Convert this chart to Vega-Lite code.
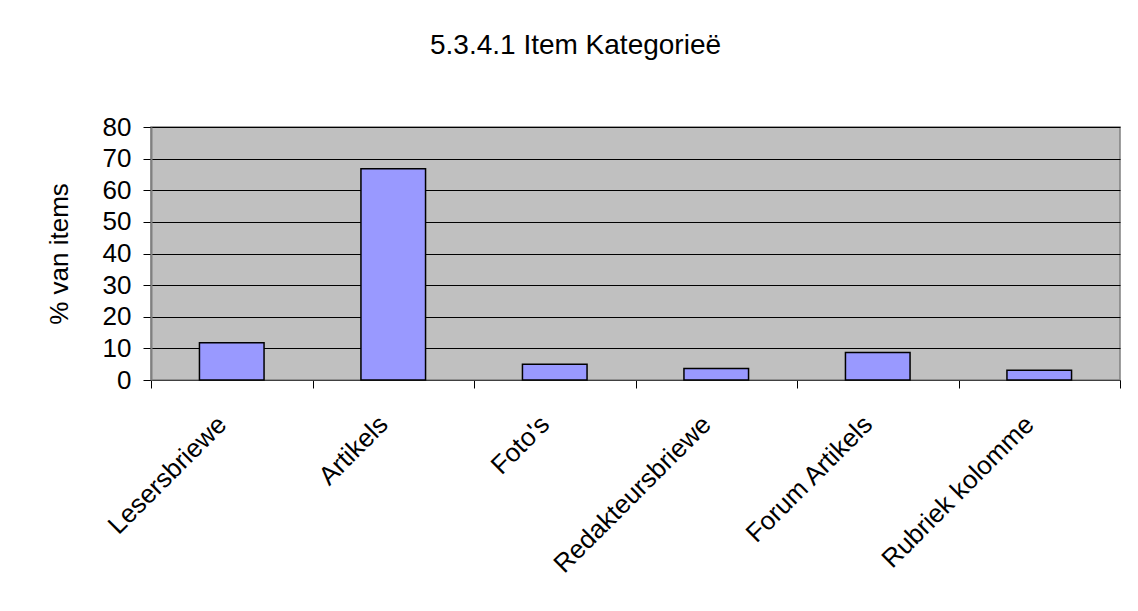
{
  "$schema": "https://vega.github.io/schema/vega-lite/v6.json",
  "autosize": {"type": "none"},
  "padding": {"left": 151, "top": 127, "right": 18, "bottom": 231},
  "width": 969,
  "height": 253,
  "background": "white",
  "title": {
    "text": "5.3.4.1 Item Kategorieë",
    "font": "Liberation Sans",
    "fontSize": 28,
    "fontWeight": "normal",
    "color": "black",
    "anchor": "middle",
    "dx": -60,
    "offset": 54
  },
  "data": {
    "values": [
      {"kategorie": "Lesersbriewe", "persent": 11.8},
      {"kategorie": "Artikels", "persent": 66.8},
      {"kategorie": "Foto's", "persent": 5},
      {"kategorie": "Redakteursbriewe", "persent": 3.6},
      {"kategorie": "Forum Artikels", "persent": 8.7},
      {"kategorie": "Rubriek kolomme", "persent": 3.1}
    ]
  },
  "mark": {
    "type": "bar",
    "fill": "#9999FF",
    "stroke": "black",
    "strokeWidth": 1.5,
    "width": {"band": 0.4}
  },
  "encoding": {
    "x": {
      "field": "kategorie",
      "type": "nominal",
      "sort": null,
      "scale": {"paddingInner": 0, "paddingOuter": 0},
      "axis": {
        "title": null,
        "labelAngle": -45,
        "labelAlign": "right",
        "labelBaseline": "middle",
        "labelFont": "Liberation Sans",
        "labelFontSize": 26,
        "labelColor": "black",
        "labelPadding": 32,
        "labelOffset": -10,
        "labelLimit": 0,
        "labelOverlap": false,
        "tickBand": "extent",
        "tickSize": 8,
        "tickColor": "black",
        "domainColor": "#404040",
        "grid": false
      }
    },
    "y": {
      "field": "persent",
      "type": "quantitative",
      "scale": {"domain": [0, 80], "nice": false},
      "axis": {
        "title": "% van items",
        "titleFont": "Liberation Sans",
        "titleFontSize": 26,
        "titleFontWeight": "normal",
        "titleColor": "black",
        "titlePadding": 30,
        "values": [0, 10, 20, 30, 40, 50, 60, 70, 80],
        "labelFont": "Liberation Sans",
        "labelFontSize": 26,
        "labelColor": "black",
        "labelPadding": 12,
        "tickSize": 8,
        "tickColor": "black",
        "domainColor": "#808080",
        "domainWidth": 2,
        "grid": true,
        "gridColor": "black",
        "gridWidth": 1,
        "gridOpacity": 1
      }
    }
  },
  "config": {
    "view": {"fill": "#C0C0C0", "stroke": "#808080", "strokeWidth": 1.5}
  }
}
